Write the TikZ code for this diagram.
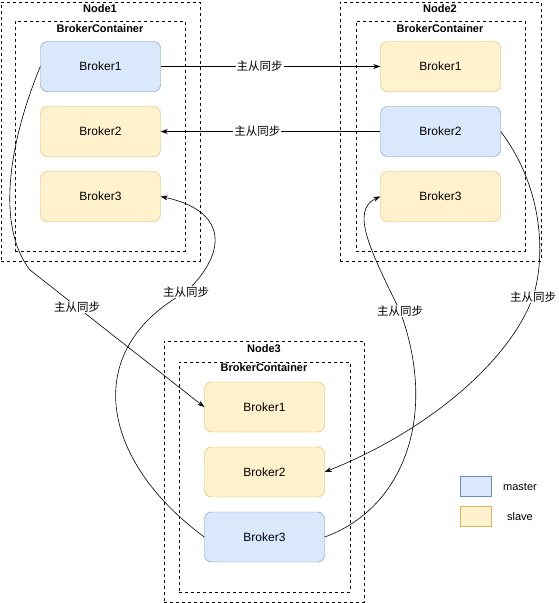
\documentclass[tikz,border=0pt]{standalone}
\usepackage{fontspec}
\setmainfont{Liberation Sans}
\newfontfamily\cjk{Noto Sans CJK SC}
\usepackage{xcolor}
\usetikzlibrary{positioning, arrows.meta}

\definecolor{mfill}{HTML}{DAE8FC}
\definecolor{mline}{HTML}{6C8EBF}
\definecolor{sfill}{HTML}{FFF2CC}
\definecolor{sline}{HTML}{D6B656}

\begin{document}
\begin{tikzpicture}[x=1pt, y=-1pt,
    brk/.style={draw, rounded corners=7pt, minimum width=120pt, minimum height=50pt, inner sep=0pt, font=\fontsize{12}{13}\selectfont},
    masterbrk/.style={brk, fill=mfill, draw=mline},
    slavebrk/.style={brk, fill=sfill, draw=sline},
    hostbox/.style={draw, dash pattern=on 3pt off 3pt, line width=0.7pt, inner sep=0pt},
    title/.style={font=\bfseries\fontsize{11}{12}\selectfont, inner sep=0pt},
    sync/.style={-{Stealth[length=7pt, width=5pt]}, line width=0.6pt},
    lbl/.style={font=\cjk\fontsize{11.5}{12}\selectfont, fill=white, inner sep=1pt},
]
\useasboundingbox (0,0) rectangle (559,603);

% hosts and containers
\node[hostbox, minimum width=199pt, minimum height=259pt] (node1) at (100.5,131.5) {};
\node[hostbox, minimum width=170pt, minimum height=230pt] (cont1) at (100,136) {};
\node[hostbox, minimum width=201pt, minimum height=259pt] (node2) at (440.5,131.5) {};
\node[hostbox, minimum width=169pt, minimum height=230pt] (cont2) at (440.5,136) {};
\node[hostbox, minimum width=200pt, minimum height=261pt] (node3) at (264,471.5) {};
\node[hostbox, minimum width=171pt, minimum height=230pt] (cont3) at (264.5,477) {};

\node[title] (t1) at (100,9) {Node1};
\node[title] (c1) at (100,29) {BrokerContainer};
\node[title] (t2) at (440,9) {Node2};
\node[title] (c2) at (440,29) {BrokerContainer};
\node[title] (t3) at (264,349) {Node3};
\node[title] (c3) at (264,368) {BrokerContainer};

% brokers
\node[masterbrk] (n1b1) at (100.5,66.5) {Broker1};
\node[slavebrk]  (n1b2) at (100.5,131.5) {Broker2};
\node[slavebrk]  (n1b3) at (100.5,196.5) {Broker3};

\node[slavebrk]  (n2b1) at (440.5,66.5) {Broker1};
\node[masterbrk] (n2b2) at (440.5,131.5) {Broker2};
\node[slavebrk]  (n2b3) at (440.5,196.5) {Broker3};

\node[slavebrk]  (n3b1) at (264.5,407) {Broker1};
\node[slavebrk]  (n3b2) at (264.5,472) {Broker2};
\node[masterbrk] (n3b3) at (264.5,537) {Broker3};

% replication
\draw[sync] (n1b1.east) -- node[lbl, pos=0.45] (s1) {主从同步} (n2b1.west);
\draw[sync] (n2b2.west) -- node[lbl, pos=0.56] (s2) {主从同步} (n1b2.east);
\draw[sync] (n1b1.west) .. controls (10,140) and (-5,225) .. (30,270)
    -- node[lbl, pos=0.27] (s3) {主从同步} (n3b1.west);
\draw[sync] (n3b3.west) .. controls (100,460) and (80,350) .. (186,292) node[lbl] (s4) {主从同步}
    .. controls (230,250) and (225,210) .. (n1b3.east);
\draw[sync] (n2b2.east) .. controls (545,190) and (545,260) .. (533,297) node[lbl] (s5) {主从同步}
    .. controls (510,360) and (430,430) .. (n3b2.east);
\draw[sync] (n3b3.east) .. controls (400,510) and (440,420) .. (400,311) node[lbl] (s6) {主从同步}
    .. controls (370,250) and (350,210) .. (n2b3.west);

% legend
\node[draw=mline, fill=mfill, minimum width=31pt, minimum height=20pt, inner sep=0pt] (lm) at (475.5,486) {};
\node[draw=sline, fill=sfill, minimum width=31pt, minimum height=20pt, inner sep=0pt] (ls) at (475.5,516) {};
\node[font=\fontsize{11}{12}\selectfont] (lmt) at (520,487) {master};
\node[font=\fontsize{11}{12}\selectfont] (lst) at (520,517) {slave};

\end{tikzpicture}
\end{document}
